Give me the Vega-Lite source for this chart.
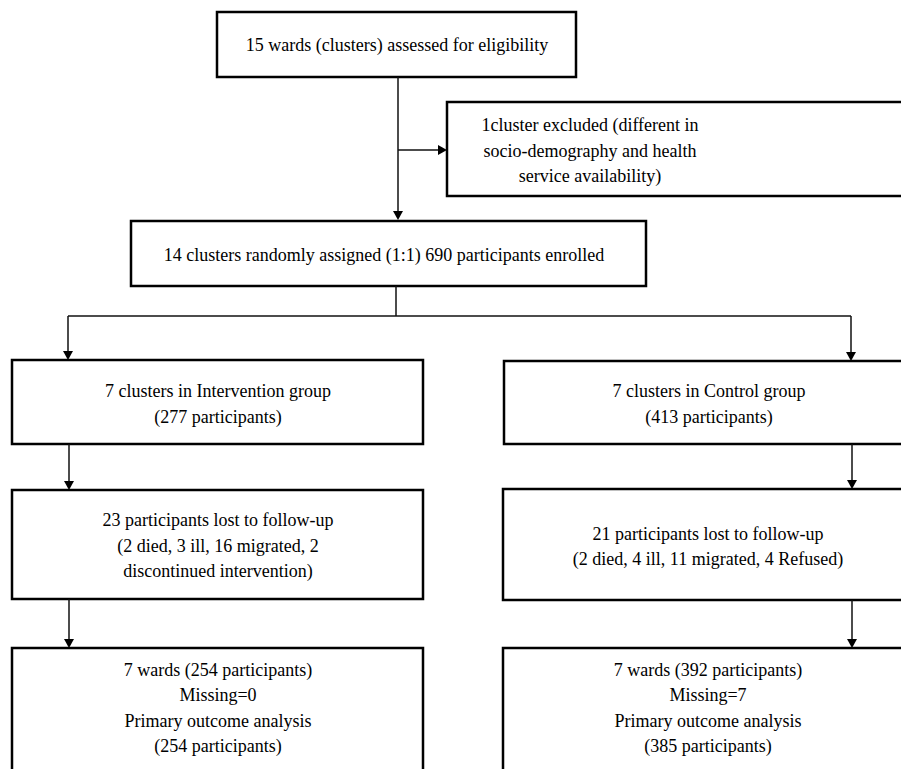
{
  "$schema": "https://vega.github.io/schema/vega-lite/v6.json",
  "width": 901,
  "height": 769,
  "padding": 0,
  "autosize": {"type": "none"},
  "background": "white",
  "config": {"view": {"stroke": null}},
  "datasets": {
    "boxes": [
      {"name": "screen", "x": 217, "x2": 576, "y": 12, "y2": 77},
      {"name": "excluded", "x": 447, "x2": 920, "y": 102, "y2": 196},
      {"name": "random", "x": 131, "x2": 646, "y": 221, "y2": 286},
      {"name": "intervention", "x": 12, "x2": 423, "y": 360, "y2": 444},
      {"name": "control", "x": 504, "x2": 920, "y": 361, "y2": 444},
      {"name": "lostL", "x": 12, "x2": 423, "y": 490, "y2": 599},
      {"name": "lostR", "x": 503, "x2": 920, "y": 489, "y2": 600},
      {"name": "finalL", "x": 12, "x2": 423, "y": 648, "y2": 795},
      {"name": "finalR", "x": 503, "x2": 920, "y": 648, "y2": 795}
    ],
    "lines": [
      {"x": 398, "x2": 398, "y": 77, "y2": 214},
      {"x": 398, "x2": 441, "y": 150, "y2": 150},
      {"x": 396, "x2": 396, "y": 286, "y2": 316},
      {"x": 68, "x2": 851, "y": 316, "y2": 316},
      {"x": 68, "x2": 68, "y": 316, "y2": 354},
      {"x": 851, "x2": 851, "y": 316, "y2": 355},
      {"x": 69, "x2": 69, "y": 444, "y2": 484},
      {"x": 852, "x2": 852, "y": 444, "y2": 483},
      {"x": 69, "x2": 69, "y": 599, "y2": 642},
      {"x": 852, "x2": 852, "y": 600, "y2": 642}
    ],
    "arrows": [
      {"x": 398, "y": 220, "dir": "down"},
      {"x": 447, "y": 150, "dir": "right"},
      {"x": 68, "y": 360, "dir": "down"},
      {"x": 851, "y": 361, "dir": "down"},
      {"x": 69, "y": 490, "dir": "down"},
      {"x": 852, "y": 489, "dir": "down"},
      {"x": 69, "y": 648, "dir": "down"},
      {"x": 852, "y": 648, "dir": "down"}
    ],
    "texts": [
      {"x": 397, "y": 46, "t": "15 wards (clusters) assessed for eligibility"},
      {"x": 590, "y": 126, "t": "1cluster excluded (different in"},
      {"x": 590, "y": 152, "t": "socio-demography and health"},
      {"x": 590, "y": 177, "t": "service availability)"},
      {"x": 384, "y": 256, "t": "14 clusters randomly assigned (1:1) 690 participants enrolled"},
      {"x": 218, "y": 392, "t": "7 clusters in Intervention group"},
      {"x": 218, "y": 418, "t": "(277 participants)"},
      {"x": 709, "y": 392, "t": "7 clusters in Control group"},
      {"x": 709, "y": 418, "t": "(413 participants)"},
      {"x": 218, "y": 521, "t": "23 participants lost to follow-up"},
      {"x": 218, "y": 547, "t": "(2 died, 3 ill, 16 migrated, 2"},
      {"x": 218, "y": 572, "t": "discontinued intervention)"},
      {"x": 708, "y": 535, "t": "21 participants lost to follow-up"},
      {"x": 708, "y": 560, "t": "(2 died, 4 ill, 11 migrated, 4 Refused)"},
      {"x": 218, "y": 671, "t": "7 wards (254 participants)"},
      {"x": 218, "y": 696, "t": "Missing=0"},
      {"x": 218, "y": 722, "t": "Primary outcome analysis"},
      {"x": 218, "y": 747, "t": "(254 participants)"},
      {"x": 708, "y": 671, "t": "7 wards (392 participants)"},
      {"x": 708, "y": 696, "t": "Missing=7"},
      {"x": 708, "y": 722, "t": "Primary outcome analysis"},
      {"x": 708, "y": 747, "t": "(385 participants)"}
    ]
  },
  "layer": [
    {
      "data": {"name": "boxes"},
      "mark": {"type": "rect", "fill": "white", "stroke": "#000000", "strokeWidth": 2.5, "clip": true},
      "encoding": {
        "x": {"field": "x", "type": "quantitative", "scale": {"domain": [0, 901], "nice": false, "zero": false}, "axis": null},
        "x2": {"field": "x2"},
        "y": {"field": "y", "type": "quantitative", "scale": {"domain": [0, 769], "nice": false, "zero": false, "reverse": true}, "axis": null},
        "y2": {"field": "y2"}
      }
    },
    {
      "data": {"name": "lines"},
      "mark": {"type": "rule", "stroke": "#111111", "strokeWidth": 1.5},
      "encoding": {
        "x": {"field": "x", "type": "quantitative"},
        "x2": {"field": "x2"},
        "y": {"field": "y", "type": "quantitative"},
        "y2": {"field": "y2"}
      }
    },
    {
      "data": {"name": "arrows"},
      "mark": {"type": "point", "filled": true, "fill": "#000000", "strokeWidth": 0, "opacity": 1, "size": 100},
      "encoding": {
        "x": {"field": "x", "type": "quantitative"},
        "y": {"field": "y", "type": "quantitative"},
        "shape": {"field": "dir", "type": "nominal", "legend": null, "scale": {"domain": ["down", "right"], "range": ["M-1,-1.8L1,-1.8L0,0Z", "M-1.8,-1L-1.8,1L0,0Z"]}}
      }
    },
    {
      "data": {"name": "texts"},
      "mark": {"type": "text", "font": "'Liberation Serif', 'Times New Roman', 'DejaVu Serif', serif", "fontSize": 18, "fill": "#000000", "align": "center", "baseline": "middle"},
      "encoding": {
        "x": {"field": "x", "type": "quantitative"},
        "y": {"field": "y", "type": "quantitative"},
        "text": {"field": "t", "type": "nominal"}
      }
    }
  ]
}
